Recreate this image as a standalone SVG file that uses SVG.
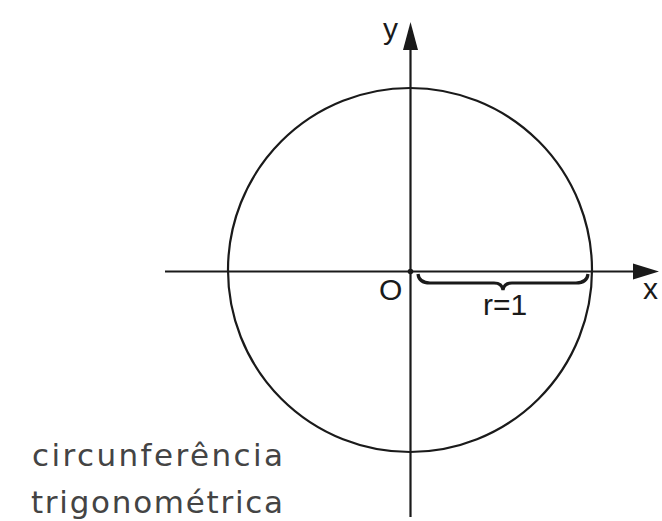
<svg xmlns="http://www.w3.org/2000/svg" width="662" height="521" viewBox="0 0 662 521">
<style>
.ln{stroke:#1a1a1a;stroke-width:2.2;fill:none}
.lbl{font-family:"Liberation Sans",Arial,sans-serif;fill:#1a1a1a;font-size:30px}
.cap{font-family:"DejaVu Sans","Open Sans",sans-serif;fill:#444;font-size:31px}
</style>
<g id="circle"><circle cx="410" cy="270" r="182" class="ln"/></g>
<g id="connectors">
<line x1="165" y1="271.5" x2="636" y2="271.5" class="ln"/>
<path d="M633,263.5 L659,271.5 L633,279.5 Z" fill="#1a1a1a"/>
<line x1="410.5" y1="517" x2="410.5" y2="48" class="ln"/>
<path d="M403,50 L410.5,22 L418,50 Z" fill="#1a1a1a"/>
<path d="M418,274 Q419,283 430,283 L494,283 Q502,283 503,290 Q504,283 512,283 L576,283 Q587,283 588,274" stroke="#1a1a1a" stroke-width="3.2" fill="none"/>
<circle cx="410.5" cy="271.5" r="2.8" fill="#1a1a1a"/>
</g>
<g id="labels">
<text x="383" y="39" class="lbl">y</text>
<text x="379" y="300" class="lbl">O</text>
<text x="643" y="299" class="lbl">x</text>
<text x="505" y="315" class="lbl" text-anchor="middle">r=1</text>
<text x="32" y="466" class="cap" textLength="251" lengthAdjust="spacing">circunferência</text>
<text x="31" y="513" class="cap" textLength="252" lengthAdjust="spacing">trigonométrica</text>
</g>
</svg>
